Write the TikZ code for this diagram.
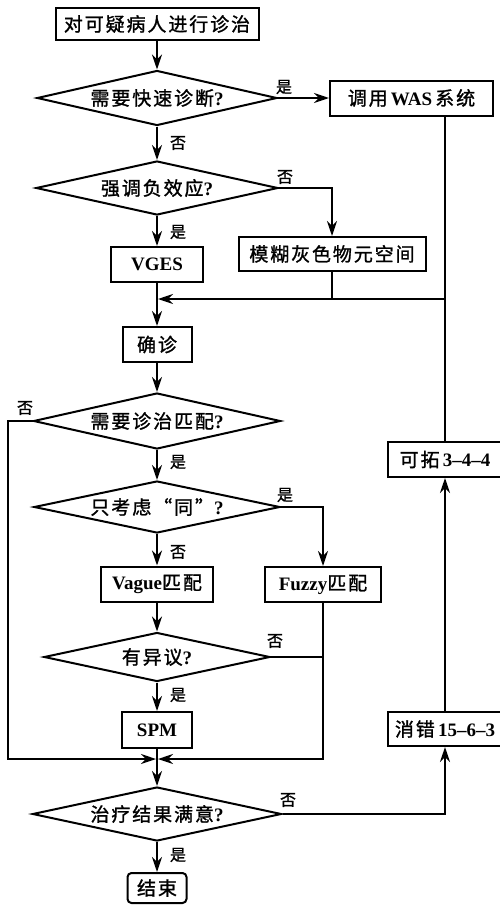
\documentclass[tikz,border=0pt]{standalone}
\usepackage{fontspec}
\setmainfont{Liberation Serif}
\newfontfamily\cjk{Noto Sans CJK SC}[LetterSpace=10,FakeBold=1.3]
\usetikzlibrary{arrows.meta,shapes.geometric}
\newcommand\zh[1]{{\cjk\mdseries #1}}
\begin{document}
\begin{tikzpicture}[x=1pt,y=-1pt,
  line/.style={line width=2pt},
  arr/.style={line width=2pt,-{Stealth[length=15pt,width=10pt,inset=5pt]}},
  box/.style={draw,line width=2pt,inner sep=0pt,font=\fontsize{19}{21}\selectfont\bfseries},
  dia/.style={draw,diamond,aspect=4.5,inner sep=0pt,line width=2pt,font=\fontsize{19}{21}\selectfont\bfseries},
  lbl/.style={inner sep=0pt,font=\fontsize{16}{17}\selectfont}]
\useasboundingbox (0,0) rectangle (500,905);
% nodes
\node[box,minimum width=203pt,minimum height=32pt] (start) at (157,24) {\zh{对可疑病人进行诊治}};
\node[dia,minimum width=240pt,minimum height=55pt] (d1) at (157,98) {\zh{需要快速诊断}?};
\node[box,minimum width=163pt,minimum height=35pt] (was) at (411.5,98) {\zh{调用}\,WAS\,\zh{系统}};
\node[dia,minimum width=242pt,minimum height=54pt] (d2) at (157,188) {\zh{强调负效应}?};
\node[box,minimum width=92pt,minimum height=35pt] (vges) at (157,264.5) {VGES};
\node[box,minimum width=187pt,minimum height=34pt] (mh) at (332,254) {\zh{模糊灰色物元空间}};
\node[box,minimum width=69pt,minimum height=35pt] (qz) at (157,344.5) {\zh{确诊}};
\node[dia,minimum width=247pt,minimum height=56pt] (d3) at (157,421) {\zh{需要诊治匹配}?};
\node[dia,minimum width=246pt,minimum height=52pt] (d4) at (157,507) {\zh{只考虑“同”}?};
\node[box,minimum width=112pt,minimum height=35pt] (vg) at (157,584) {Vague\zh{匹配}};
\node[box,minimum width=116pt,minimum height=35pt] (fz) at (323,584.5) {Fuzzy\zh{匹配}};
\node[dia,minimum width=226pt,minimum height=49pt] (d5) at (157,657) {\zh{有异议}?};
\node[box,minimum width=70pt,minimum height=36pt] (spm) at (157,730) {SPM};
\node[dia,minimum width=249pt,minimum height=54pt] (d6) at (157,814) {\zh{治疗结果满意}?};
\node[box,rounded corners=4pt,minimum width=59pt,minimum height=30pt] (end) at (157,888) {\zh{结束}};
\node[box,minimum width=114pt,minimum height=35pt] (kt) at (445,459.5) {\zh{可拓}\,3–4–4};
\node[box,minimum width=114pt,minimum height=34pt] (xc) at (445,729) {\zh{消错}\,15–6–3};
\coordinate (m) at (158,299);
\coordinate (jl) at (156,759);
\coordinate (jr) at (158,759);
\coordinate (lx) at (8,421);
% connectors
\draw[arr] (start) -- (d1);
\draw[arr] (d1.east) -- (was.west);
\draw[arr] (d1) -- (d2);
\draw[arr] (d2.east) -| (mh.north);
\draw[arr] (d2) -- (vges);
\draw[arr] (vges) -- (qz);
\draw[line] (kt.north) -- (kt.north |- was.south);
\draw[arr] (kt.north |- m) -- (m);
\draw[line] (mh.south) -- (mh.south |- m);
\draw[arr] (qz) -- (d3);
\draw[arr] (d3) -- (d4);
\draw[arr] (d4.east) -| (fz.north);
\draw[arr] (d4) -- (vg);
\draw[arr] (vg) -- (d5);
\draw[arr] (d5) -- (spm);
\draw[arr] (spm) -- (d6);
\draw[arr] (d3.west) -- (lx) |- (jl);
\draw[arr] (fz.south) |- (jr);
\draw[line] (d5.east) -- (d5.east -| fz.south);
\draw[arr] (d6.east) -| (xc.south);
\draw[arr] (xc.north) -- (kt.south);
\draw[arr] (d6) -- (end);
% labels
\node[lbl] (l1) at (284,87) {\zh{是}};
\node[lbl] (l2) at (178,143) {\zh{否}};
\node[lbl] (l3) at (285,177) {\zh{否}};
\node[lbl] (l4) at (178,232) {\zh{是}};
\node[lbl] (l5) at (25,408) {\zh{否}};
\node[lbl] (l6) at (178,462) {\zh{是}};
\node[lbl] (l7) at (285,495) {\zh{是}};
\node[lbl] (l8) at (178,552) {\zh{否}};
\node[lbl] (l9) at (275,641) {\zh{否}};
\node[lbl] (l10) at (178,695) {\zh{是}};
\node[lbl] (l11) at (288,800) {\zh{否}};
\node[lbl] (l12) at (178,855) {\zh{是}};
\end{tikzpicture}
\end{document}
